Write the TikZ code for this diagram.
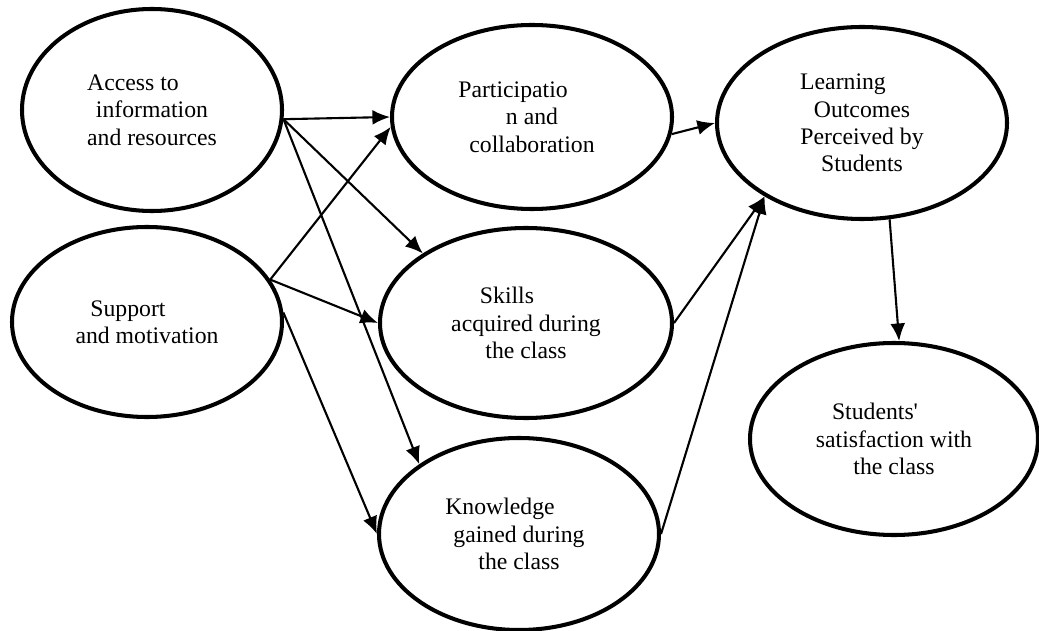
\documentclass[tikz,border=0pt]{standalone}
\usepackage{fontspec}
\setmainfont{Liberation Serif}
\usepackage{tikz}
\usetikzlibrary{arrows.meta,shapes.geometric}
\newcommand{\firstln}[1]{#1\hspace*{0.76cm}}
\tikzset{
    basic oval/.style={ellipse, draw, line width=2.3pt, inner sep=0pt, align=center,
        font=\fontsize{13.5pt}{15.6pt}\selectfont},
    link/.style={-{Latex[length=10pt,width=8.5pt]}, line width=1.2pt}
}
\begin{document}
\begin{tikzpicture}
	\useasboundingbox (0,0) rectangle (20.78,-12.62);
		% left column
		\node[basic oval, minimum width=5.2cm, minimum height=4.04cm] (acc) at (3.04,-2.20)
			{\firstln{Access to}\\information\\and resources};
		\node[basic oval, minimum width=5.4cm, minimum height=3.8cm] (sup) at (2.94,-6.44)
			{\firstln{Support}\\and motivation};
		% middle column
		\node[basic oval, minimum width=5.6cm, minimum height=3.68cm] (part) at (10.64,-2.34)
			{\firstln{Participatio}\\n and\\collaboration};
		\node[basic oval, minimum width=5.84cm, minimum height=3.8cm] (skill) at (10.52,-6.46)
			{\firstln{Skills}\\acquired during\\the class};
		\node[basic oval, minimum width=5.6cm, minimum height=3.84cm] (know) at (10.38,-10.68)
			{\firstln{Knowledge}\\gained during\\the class};
		% right column
		\node[basic oval, minimum width=5.8cm, minimum height=3.84cm] (learn) at (17.24,-2.46)
			{\firstln{Learning}\\Outcomes\\Perceived by\\Students};
		\node[basic oval, minimum width=5.76cm, minimum height=3.84cm] (satis) at (17.88,-8.78)
			{\firstln{Students\textquotesingle}\\satisfaction with\\the class};
		% links
		\draw[link] (acc.-4) -- (part.west);
		\draw[link] (acc.-4) -- (skill.146);
		\draw[link] (acc.-4) -- (know.145);
		\draw[link] (sup.19) -- (part.184);
		\draw[link] (sup.19) -- (skill.west);
		\draw[link] (sup.4) -- (know.west);
		\draw[link] (part.-7) -- (learn.west);
		\draw[link] (skill.east) -- (learn.217);
		\draw[link] (know.east) -- (learn.217);
		\draw[link] (learn.-74) -- (satis.87);
\end{tikzpicture}
\end{document}
